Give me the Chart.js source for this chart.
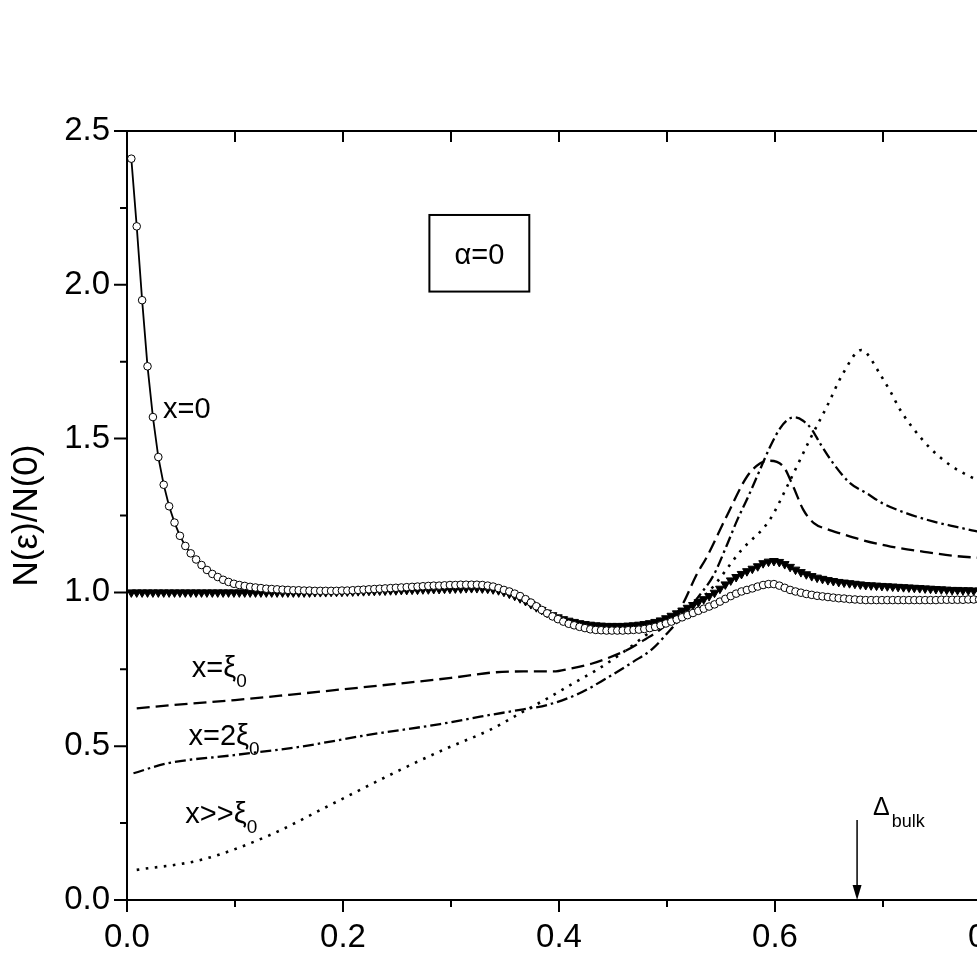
<!DOCTYPE html>
<html><head><meta charset="utf-8">
<style>
html,body{margin:0;padding:0;background:#fff;overflow:hidden;width:977px;height:962px}
#wrap{position:absolute;left:0;top:0;width:1040px;height:962px}
</style>
<script src="https://cdn.jsdelivr.net/npm/chart.js@4.4.1/dist/chart.umd.min.js"></script>
</head><body><div id="wrap"><canvas id="c" width="1040" height="962"></canvas></div>
<script>
// ---- data ----
const ENERGY = [
0.004,0.009,0.014,0.019,0.024,0.029,0.034,0.039,0.044,0.049,
0.054,0.059,0.064,0.069,0.074,0.079,0.084,0.089,0.094,0.099,
0.104,0.109,0.114,0.119,0.124,0.129,0.134,0.139,0.144,0.149,
0.154,0.159,0.164,0.169,0.174,0.179,0.184,0.189,0.194,0.199,
0.204,0.209,0.214,0.219,0.224,0.229,0.234,0.239,0.244,0.249,
0.254,0.259,0.264,0.269,0.274,0.279,0.284,0.289,0.294,0.299,
0.304,0.309,0.314,0.319,0.324,0.329,0.334,0.339,0.344,0.349,
0.354,0.359,0.364,0.369,0.374,0.379,0.384,0.389,0.394,0.399,
0.404,0.409,0.414,0.419,0.424,0.429,0.434,0.439,0.444,0.449,
0.454,0.459,0.464,0.469,0.474,0.479,0.484,0.489,0.494,0.499,
0.504,0.509,0.514,0.519,0.524,0.529,0.534,0.539,0.544,0.549,
0.554,0.559,0.564,0.569,0.574,0.579,0.584,0.589,0.594,0.599,
0.604,0.609,0.614,0.619,0.624,0.629,0.634,0.639,0.644,0.649,
0.654,0.659,0.664,0.669,0.674,0.679,0.684,0.689,0.694,0.699,
0.704,0.709,0.714,0.719,0.724,0.729,0.734,0.739,0.744,0.749,
0.754,0.759,0.764,0.769,0.774,0.779,0.784,0.789,0.794,0.799];

// x = 0 (open circles)
const X0_N = [
2.41,2.19,1.95,1.735,1.57,1.44,1.35,1.28,1.227,1.184,
1.151,1.127,1.107,1.089,1.073,1.060,1.050,1.041,1.034,1.028,
1.024,1.021,1.018,1.016,1.014,1.012,1.011,1.010,1.009,1.008,
1.007,1.007,1.006,1.006,1.005,1.005,1.005,1.005,1.005,1.006,
1.006,1.007,1.008,1.009,1.010,1.011,1.012,1.013,1.014,1.015,
1.016,1.017,1.018,1.019,1.020,1.021,1.022,1.022,1.023,1.024,
1.024,1.025,1.025,1.025,1.025,1.024,1.022,1.019,1.014,1.008,
1.003,0.996,0.988,0.978,0.967,0.955,0.943,0.932,0.922,0.913,
0.905,0.898,0.893,0.888,0.884,0.880,0.878,0.877,0.876,0.876,
0.876,0.876,0.877,0.878,0.879,0.881,0.884,0.888,0.893,0.899,
0.905,0.912,0.919,0.926,0.933,0.940,0.947,0.954,0.961,0.970,
0.979,0.988,0.996,1.003,1.008,1.013,1.019,1.024,1.027,1.027,
1.022,1.015,1.008,1.003,0.999,0.995,0.992,0.989,0.987,0.985,
0.983,0.981,0.980,0.978,0.977,0.976,0.975,0.975,0.975,0.975,
0.975,0.975,0.975,0.975,0.975,0.975,0.975,0.975,0.975,0.975,
0.976,0.976,0.976,0.976,0.976,0.977,0.977,0.977,0.977,0.977];

// filled down-triangles
const TRI_N = [
1.000,1.000,1.000,1.000,1.000,1.000,1.000,1.000,1.000,1.000,
1.000,1.000,1.000,1.000,1.000,1.000,1.000,1.000,1.000,1.000,
1.000,1.000,1.000,1.000,1.000,1.000,1.000,1.000,1.000,1.000,
1.000,1.000,1.000,1.000,1.001,1.001,1.001,1.002,1.002,1.002,
1.003,1.003,1.004,1.004,1.005,1.005,1.006,1.006,1.007,1.007,
1.008,1.008,1.009,1.009,1.010,1.010,1.011,1.011,1.012,1.012,
1.013,1.013,1.014,1.014,1.014,1.013,1.012,1.010,1.007,1.002,
0.996,0.989,0.981,0.972,0.962,0.952,0.943,0.934,0.926,0.919,
0.913,0.908,0.904,0.900,0.897,0.895,0.893,0.892,0.891,0.891,
0.891,0.891,0.892,0.893,0.895,0.897,0.900,0.904,0.909,0.916,
0.924,0.932,0.941,0.950,0.959,0.968,0.978,0.988,0.999,1.012,
1.026,1.039,1.050,1.060,1.069,1.077,1.085,1.095,1.100,1.102,
1.099,1.092,1.083,1.074,1.066,1.059,1.053,1.048,1.044,1.040,
1.037,1.034,1.032,1.030,1.028,1.026,1.024,1.023,1.022,1.021,
1.020,1.019,1.018,1.017,1.016,1.015,1.014,1.013,1.012,1.011,
1.010,1.009,1.008,1.008,1.007,1.007,1.006,1.006,1.005,1.005];

// x = xi0 (dashed)
const XI1_E = [0.009,0.05,0.10,0.15,0.20,0.25,0.30,0.34,0.37,0.395,0.41,0.43,0.445,0.463,0.48,0.494,0.505,0.515,0.527,0.537,0.555,0.574,0.586,0.595,0.608,0.617,0.626,0.636,0.648,0.662,0.680,0.707,0.738,0.768,0.80];
const XI1_N = [0.623,0.636,0.650,0.667,0.685,0.703,0.722,0.740,0.743,0.743,0.752,0.768,0.786,0.813,0.848,0.880,0.915,0.965,1.055,1.116,1.246,1.376,1.419,1.428,1.408,1.343,1.270,1.225,1.206,1.190,1.171,1.149,1.132,1.118,1.110];

// x = 2 xi0 (dash-dot)
const XI2_E = [0.006,0.037,0.099,0.160,0.222,0.290,0.327,0.367,0.389,0.419,0.444,0.469,0.487,0.503,0.515,0.530,0.543,0.555,0.565,0.575,0.585,0.595,0.605,0.612,0.618,0.626,0.634,0.642,0.654,0.669,0.685,0.700,0.722,0.747,0.768,0.785,0.80];
const XI2_N = [0.412,0.444,0.471,0.498,0.536,0.572,0.596,0.620,0.634,0.672,0.721,0.775,0.818,0.878,0.925,0.990,1.055,1.150,1.235,1.310,1.390,1.470,1.535,1.562,1.569,1.558,1.530,1.483,1.419,1.357,1.322,1.289,1.257,1.230,1.213,1.200,1.192];

// x >> xi0 (dotted)
const XIB_E = [0.009,0.068,0.129,0.191,0.253,0.296,0.336,0.364,0.389,0.413,0.435,0.460,0.487,0.537,0.569,0.595,0.612,0.632,0.648,0.663,0.680,0.685,0.696,0.707,0.716,0.728,0.744,0.762,0.781,0.80];
const XIB_N = [0.098,0.130,0.206,0.314,0.423,0.493,0.553,0.607,0.655,0.704,0.748,0.807,0.878,0.997,1.138,1.235,1.350,1.495,1.604,1.712,1.788,1.777,1.717,1.652,1.593,1.533,1.468,1.414,1.376,1.345];

const X_TICKS = [0,0.1,0.2,0.3,0.4,0.5,0.6,0.7,0.8];
const Y_TICKS = [0,0.25,0.5,0.75,1.0,1.25,1.5,1.75,2.0,2.25,2.5];
const DELTA_BULK = 0.676;

// ---- chart ----
const FONT = '"Liberation Sans", Arial, Helvetica, sans-serif';
const pts = (xs, ys) => xs.map((v, i) => ({x: v, y: ys[i]}));
Chart.defaults.color = '#000';
Chart.defaults.font.family = FONT;

const decor = {
  id: 'decor',
  afterDraw(chart) {
    const {ctx, chartArea: a, scales: {x, y}} = chart;
    ctx.save();
    ctx.strokeStyle = '#000'; ctx.fillStyle = '#000'; ctx.lineWidth = 2;
    ctx.strokeRect(a.left, a.top, a.right - a.left, a.bottom - a.top);
    ctx.beginPath();
    X_TICKS.forEach((v, i) => {
      const px = x.getPixelForValue(v);
      const major = i % 2 === 0;
      ctx.moveTo(px, a.bottom); ctx.lineTo(px, a.bottom + (major ? 12 : 7));
      ctx.moveTo(px, a.top); ctx.lineTo(px, a.top + 11);
    });
    Y_TICKS.forEach((v, i) => {
      const py = y.getPixelForValue(v);
      const major = i % 2 === 0;
      ctx.moveTo(a.left, py); ctx.lineTo(a.left - (major ? 13 : 7), py);
      ctx.moveTo(a.right, py); ctx.lineTo(a.right - (major ? 14 : 7), py);
    });
    ctx.stroke();

    // labels
    const big = '29px ' + FONT, small = '19px ' + FONT;
    ctx.textBaseline = 'alphabetic'; ctx.textAlign = 'left';
    const label = (ex, ey, main, sub, dy) => {
      const px = x.getPixelForValue(ex), py = y.getPixelForValue(ey);
      ctx.font = big; ctx.fillText(main, px, py);
      if (sub) { const w = ctx.measureText(main).width; ctx.font = small; ctx.fillText(sub, px + w, py + dy); }
    };
    label(0.0333, 1.567, 'x=0');
    label(0.060, 0.725, 'x=ξ', '0', 10);
    label(0.057, 0.504, 'x=2ξ', '0', 10);
    label(0.054, 0.250, 'x>>ξ', '0', 10);

    // alpha box
    const bx1 = x.getPixelForValue(0.280), bx2 = x.getPixelForValue(0.3725);
    const by1 = y.getPixelForValue(2.227), by2 = y.getPixelForValue(1.978);
    ctx.lineWidth = 2; ctx.strokeRect(bx1, by1, bx2 - bx1, by2 - by1);
    ctx.font = big; ctx.textAlign = 'center';
    ctx.fillText('α=0', (bx1 + bx2) / 2, y.getPixelForValue(2.068));

    // Delta_bulk arrow
    const ax = x.getPixelForValue(DELTA_BULK);
    const ay0 = y.getPixelForValue(0.26), ay1 = y.getPixelForValue(0);
    ctx.lineWidth = 1.5;
    ctx.beginPath(); ctx.moveTo(ax, ay0); ctx.lineTo(ax, ay1 - 12); ctx.stroke();
    ctx.beginPath(); ctx.moveTo(ax - 4.5, ay1 - 15); ctx.lineTo(ax + 4.5, ay1 - 15); ctx.lineTo(ax, ay1); ctx.closePath(); ctx.fill();
    ctx.textAlign = 'left';
    const dx = x.getPixelForValue(0.6907), dy = y.getPixelForValue(0.276);
    ctx.font = '25px ' + FONT; ctx.fillText('Δ', dx, dy);
    const dw = ctx.measureText('Δ').width;
    ctx.font = '18px ' + FONT; ctx.fillText('bulk', dx + dw + 2, dy + 12);
    ctx.restore();
  }
};

new Chart(document.getElementById('c'), {
  type: 'scatter',
  data: {
    datasets: [
      {label: 'x=0', data: pts(ENERGY, X0_N), showLine: true, borderColor: '#000', borderWidth: 1.8,
       pointStyle: 'circle', pointRadius: 3.8, pointBackgroundColor: '#fff', pointBorderColor: '#000', pointBorderWidth: 1, order: 0},
      {label: 'tri', data: pts(ENERGY, TRI_N), showLine: false, pointStyle: 'triangle', rotation: 180,
       pointRadius: 5, pointBackgroundColor: '#000', pointBorderColor: '#000', pointBorderWidth: 1, order: 1},
      {label: 'x=xi0', data: pts(XI1_E, XI1_N), showLine: true, borderColor: '#000', borderWidth: 2.3, borderDash: [13, 6],
       pointRadius: 0, cubicInterpolationMode: 'monotone', order: 2},
      {label: 'x=2xi0', data: pts(XI2_E, XI2_N), showLine: true, borderColor: '#000', borderWidth: 2.3, borderDash: [11, 4, 2.5, 4],
       pointRadius: 0, cubicInterpolationMode: 'monotone', order: 3},
      {label: 'x>>xi0', data: pts(XIB_E, XIB_N), showLine: true, borderColor: '#000', borderWidth: 2.6, borderDash: [2.6, 6.5],
       pointRadius: 0, cubicInterpolationMode: 'monotone', order: 4}
    ]
  },
  options: {
    responsive: false, animation: false, devicePixelRatio: 1,
    layout: {padding: {top: 131, right: 49, left: 0, bottom: 0}},
    plugins: {legend: {display: false}, tooltip: {enabled: false}},
    scales: {
      x: {type: 'linear', position: 'bottom', min: 0, max: 0.8,
          afterFit: s => { s.height = 62; },
          border: {display: false},
          grid: {display: true, drawOnChartArea: false, drawTicks: true, tickLength: 12, color: 'rgba(0,0,0,0)'},
          ticks: {stepSize: 0.2, padding: 6, font: {size: 33}, color: '#000', maxRotation: 0, autoSkip: false,
                  callback: v => Number(v).toFixed(1)}},
      y: {type: 'linear', position: 'left', min: 0, max: 2.5,
          afterFit: s => { s.width = 127; },
          border: {display: false},
          grid: {display: true, drawOnChartArea: false, drawTicks: true, tickLength: 12, color: 'rgba(0,0,0,0)'},
          ticks: {stepSize: 0.5, padding: 5, font: {size: 33}, color: '#000', autoSkip: false,
                  callback: v => Number(v).toFixed(1)},
          title: {display: true, text: 'N(ε)/N(0)', font: {size: 35}, color: '#000', padding: {top: 6, bottom: 0}}}
    }
  },
  plugins: [decor]
});
</script></body></html>
